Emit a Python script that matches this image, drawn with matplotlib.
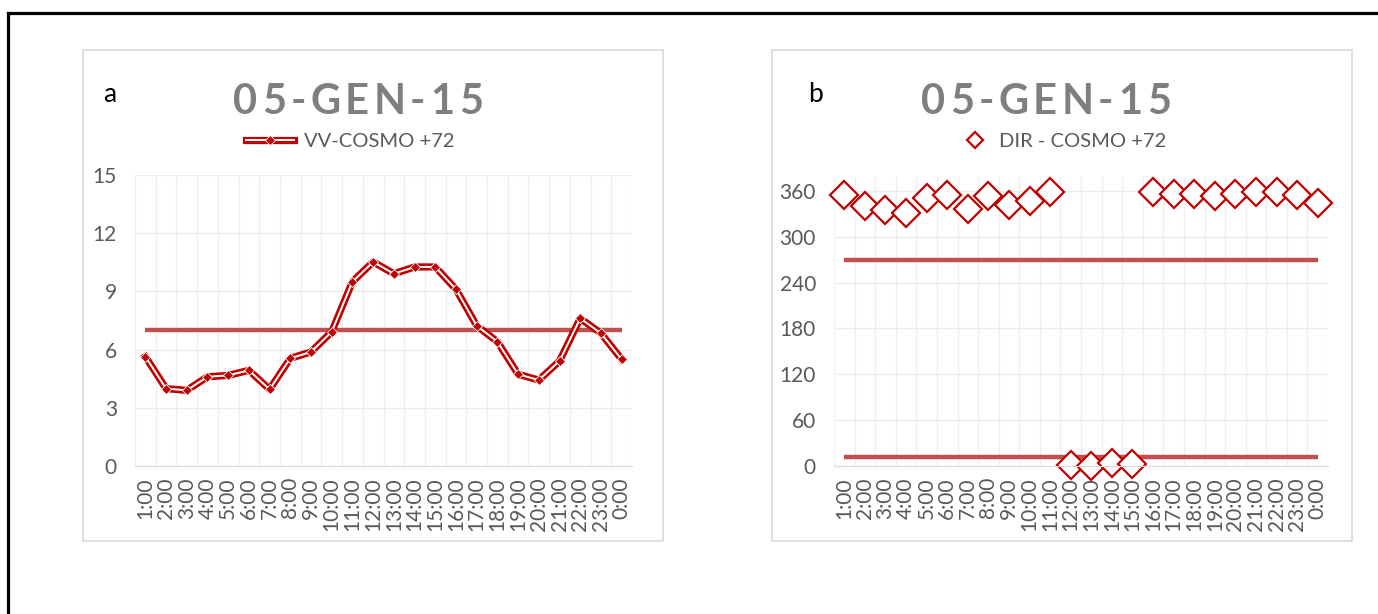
import numpy as np
import matplotlib
matplotlib.use('Agg')
import matplotlib.pyplot as plt
from matplotlib.patches import Rectangle
from matplotlib.lines import Line2D

# dati
ore = ['1:00', '2:00', '3:00', '4:00', '5:00', '6:00', '7:00', '8:00', '9:00', '10:00', '11:00', '12:00',
       '13:00', '14:00', '15:00', '16:00', '17:00', '18:00', '19:00', '20:00', '21:00', '22:00', '23:00', '0:00']
vv = [5.64, 3.99, 3.90, 4.60, 4.67, 4.93, 3.95, 5.55, 5.88, 6.92, 9.50, 10.52,
      9.91, 10.26, 10.26, 9.11, 7.23, 6.41, 4.73, 4.43, 5.41, 7.61, 6.84, 5.50]
vv_soglia = 7
direzione = [355, 340, 335, 331, 351, 355, 336, 353, 341, 346, 358, 1,
             0, 4, 3, 358, 356, 356, 353, 356, 359, 359, 355, 344]
dir_soglie = [270, 11.25]
titolo = '05-GEN-15'

ROSSO = '#c00000'
SOGLIA = '#c0504d'
GRIGIO = '#595959'
plt.rcParams['font.family'] = ['Lato', 'DejaVu Sans']

fig = plt.figure(figsize=(13.78, 6.14), dpi=100)

# cornice esterna (solo sinistra e alto)
fig.add_artist(Line2D([8 / 1378, 8 / 1378], [0, 1 - 13 / 614], color='black', lw=2.3, transform=fig.transFigure))
fig.add_artist(Line2D([8 / 1378, 1], [1 - 13 / 614, 1 - 13 / 614], color='black', lw=2.3, transform=fig.transFigure))

# riquadri dei grafici
for x0 in [83, 772]:
    fig.add_artist(Rectangle((x0 / 1378, 1 - 541 / 614), 580 / 1378, 491 / 614, transform=fig.transFigure,
                             fill=False, edgecolor='#d9d9d9', lw=1.2))


def titolo_spaziato(xc, yc, s, spazio=4.5):
    # scrive il titolo carattere per carattere con spaziatura extra
    r = fig.canvas.get_renderer()
    kw = dict(fontsize=30, fontweight='bold', color='#7f7f7f', va='center', ha='left')
    larghezze = []
    for c in s:
        t = fig.text(0, 0, c, **kw)
        larghezze.append(t.get_window_extent(r).width)
        t.remove()
    tot = sum(larghezze) + spazio * (len(s) - 1)
    x = xc - tot / 2
    for c, w in zip(s, larghezze):
        fig.text(x / 1378, 1 - yc / 614, c, **kw)
        x += w + spazio


def prepara(ax, ymax, passo):
    n = len(ore)
    ax.set_xlim(-0.5, n - 0.5)
    ax.set_ylim(0, ymax)
    ax.set_xticks(np.arange(n))
    ax.set_xticklabels(ore, rotation=90, fontsize=15, color=GRIGIO)
    ax.set_xticks(np.arange(n + 1) - 0.5, minor=True)
    ax.set_yticks(np.arange(0, ymax + 0.01, passo))
    ax.tick_params(axis='y', labelsize=15, labelcolor=GRIGIO, length=0, pad=13)
    ax.tick_params(axis='x', which='both', length=0, pad=8)
    ax.grid(axis='y', which='major', color='#ececec', lw=1)
    ax.grid(axis='x', which='minor', color='#efefef', lw=1)
    for s in ['top', 'right', 'left']:
        ax.spines[s].set_visible(False)
    ax.spines['bottom'].set_color('#d9d9d9')
    ax.set_axisbelow(True)


x = np.arange(len(ore))

# grafico a: velocita vento
ax1 = fig.add_axes([135 / 1378, 1 - 466 / 614, 497 / 1378, 291 / 614])
prepara(ax1, 15, 3)
ax1.plot(x, np.full(len(ore), vv_soglia), color=SOGLIA, lw=3.2, solid_capstyle='butt')
l1, = ax1.plot(x, vv, color=ROSSO, lw=5.2)
l2, = ax1.plot(x, vv, color='white', lw=1.4)
l3, = ax1.plot(x, vv, ls='none', marker='D', ms=5, mfc=ROSSO, mec='white', mew=0.6)
fig.legend([(l1, l2, l3)], ['VV-COSMO +72'],
           loc='center', bbox_to_anchor=(350 / 1378, 1 - 141 / 614), frameon=False,
           fontsize=14.5, labelcolor=GRIGIO, handlelength=2.4, handletextpad=0.5, numpoints=1)
fig.text(110 / 1378, 1 - 95 / 614, 'a', fontsize=19, color='black', ha='center', va='center')
titolo_spaziato(358, 102, titolo)

# grafico b: direzione vento
ax2 = fig.add_axes([834 / 1378, 1 - 466 / 614, 494 / 1378, 289 / 614])
prepara(ax2, 378, 60)
for s in dir_soglie:
    ax2.plot(x, np.full(len(ore), s), color=SOGLIA, lw=3.2, solid_capstyle='butt')
m, = ax2.plot(x, direzione, ls='none', marker='D', ms=14, mfc='white', mec=ROSSO, mew=1.6, clip_on=False)
fig.legend([m], ['DIR - COSMO +72'], loc='center', bbox_to_anchor=(1066 / 1378, 1 - 141 / 614),
           frameon=False, fontsize=14.5, labelcolor=GRIGIO, handlelength=1.0, handletextpad=0.7,
           numpoints=1, markerscale=0.6)
fig.text(815 / 1378, 1 - 95 / 614, 'b', fontsize=19, color='black', ha='center', va='center')
titolo_spaziato(1046, 102, titolo)

fig.savefig('out.png', dpi=100)
